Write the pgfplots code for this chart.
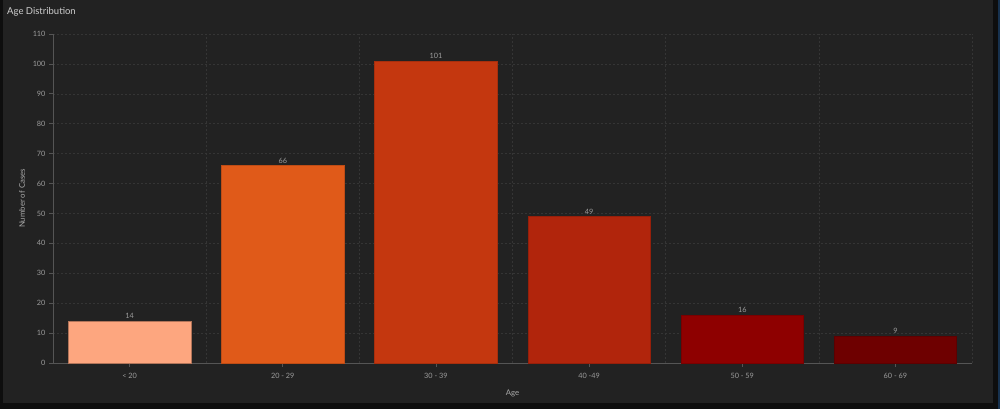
\documentclass[border=0pt]{standalone}
\usepackage{pgfplots}
\pgfplotsset{compat=1.18}
\usepackage{fontspec}
\setmainfont{Lato}
\definecolor{outer}{HTML}{0E0E0E}
\definecolor{panel}{HTML}{222222}
\definecolor{edgeblue}{HTML}{17324F}
\definecolor{titlec}{HTML}{CFCFCF}
\definecolor{tickc}{HTML}{9C9C9C}
\definecolor{labc}{HTML}{ABABAB}
\definecolor{gridc}{HTML}{353535}
\definecolor{axisc}{HTML}{555555}
\definecolor{cA}{HTML}{FDA67F}
\definecolor{cB}{HTML}{E05A19}
\definecolor{cC}{HTML}{C4370F}
\definecolor{cD}{HTML}{B1250C}
\definecolor{cE}{HTML}{8E0000}
\definecolor{cF}{HTML}{6E0000}
\begin{document}
\begin{tikzpicture}[x=1pt,y=1pt]
\useasboundingbox (0,0) rectangle (1000,409);
\fill[outer] (0,0) rectangle (1000,409);
\fill[panel] (3,6) rectangle (993,409);
\fill[edgeblue] (998,0) rectangle (1000,409);
\node[anchor=base west, inner sep=0, text=titlec, font=\fontsize{9.5}{11}\selectfont] at (7,394) {Age Distribution};
\begin{axis}[
  at={(53pt,46pt)}, anchor=south west,
  width=919pt, height=329pt, scale only axis,
  xmin=-0.5, xmax=5.5, ymin=0, ymax=110,
  ybar, bar width=0.8, bar shift=0pt,
  axis x line*=bottom, axis y line*=left,
  axis line style={axisc, line width=0.8pt},
  xtick={0,1,2,3,4,5},
  xticklabels={{< 20},{20 - 29},{30 - 39},{40 -49},{50 - 59},{60 - 69}},
  minor xtick={0.5,1.5,2.5,3.5,4.5,5.5},
  xminorgrids=true, xmajorgrids=false,
  ytick={0,10,...,110}, ymajorgrids=true,
  grid style={gridc, dash pattern=on 2pt off 2pt, line width=0.6pt},
  minor grid style={gridc, dash pattern=on 2pt off 2pt, line width=0.6pt},
  tick align=outside, major tick length=4pt, minor tick length=0pt,
  tick style={axisc, line width=0.8pt},
  ticklabel style={text=tickc, font=\fontsize{7.3}{8}\selectfont},
  xticklabel style={yshift=-3pt},
  /pgf/number format/assume math mode=true,
  xlabel={Age}, ylabel={Number of Cases},
  label style={text=labc, font=\fontsize{7.8}{9}\selectfont},
  xlabel style={at={(axis description cs:0.5,-0.092)}, anchor=center},
  ylabel style={at={(axis description cs:-0.0337,0.5)}, anchor=center},
  nodes near coords,
  every node near coord/.append style={text=tickc, font=\fontsize{7.3}{8}\selectfont, inner sep=2pt},
  clip=false,
]
\addplot[fill=cA, draw=cA!70!black, line width=0.5pt] coordinates {(0,14)};
\addplot[fill=cB, draw=cB!85!black, line width=0.5pt] coordinates {(1,66)};
\addplot[fill=cC, draw=cC!85!black, line width=0.5pt] coordinates {(2,101)};
\addplot[fill=cD, draw=cD!85!black, line width=0.5pt] coordinates {(3,49)};
\addplot[fill=cE, draw=cE!85!black, line width=0.5pt] coordinates {(4,16)};
\addplot[fill=cF, draw=cF!85!black, line width=0.5pt] coordinates {(5,9)};
\end{axis}
\end{tikzpicture}
\end{document}
